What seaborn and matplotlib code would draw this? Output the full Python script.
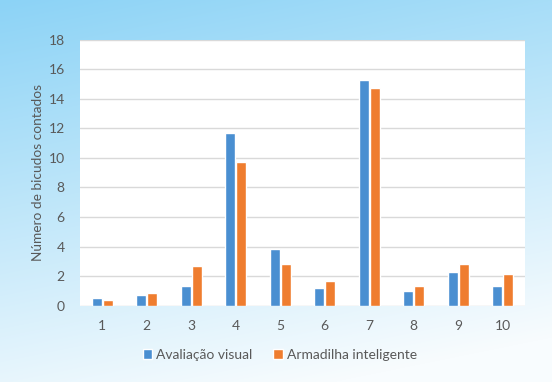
import numpy as np
import pandas as pd
import seaborn as sns
import matplotlib.pyplot as plt

categories = ["1", "2", "3", "4", "5", "6", "7", "8", "9", "10"]
avaliacao_visual = [0.5, 0.7, 1.35, 11.7, 3.85, 1.2, 15.3, 1.0, 2.25, 1.35]
armadilha_inteligente = [0.4, 0.85, 2.7, 9.75, 2.8, 1.65, 14.7, 1.3, 2.8, 2.15]
series_names = ["Avaliação visual", "Armadilha inteligente"]
y_ticks = [0, 2, 4, 6, 8, 10, 12, 14, 16, 18]

df = pd.DataFrame({
    "cat": categories * 2,
    "valor": avaliacao_visual + armadilha_inteligente,
    "serie": [series_names[0]] * 10 + [series_names[1]] * 10,
})

sns.set_style("white")
plt.rcParams['font.family'] = ['Lato', 'DejaVu Sans']
text_col = "#595959"

fig = plt.figure(figsize=(5.52, 3.82), dpi=100)

# background gradient (light blue at top, fading to white bottom right)
bg = fig.add_axes([0, 0, 1, 1], zorder=-10)
h, w = 382, 552
yy, xx = np.mgrid[0:h, 0:w]
t = np.clip(yy / h * 0.85 + xx / w * 0.25, 0, 1)
top = np.array([140, 211, 246]) / 255
bot = np.array([248, 252, 254]) / 255
img = top[None, None, :] * (1 - t[..., None]) + bot[None, None, :] * t[..., None]
bg.imshow(img, aspect="auto", extent=[0, 1, 0, 1])
bg.axis("off")

ax = fig.add_axes([80 / 552, 1 - 305.7 / 382, 445 / 552, 266 / 382])
ax.set_facecolor("white")
sns.barplot(data=df, x="cat", y="valor", hue="serie", order=categories,
            hue_order=series_names, palette=["#4a8fd1", "#ef7d2f"],
            saturation=1, width=0.51, gap=0.12, ax=ax)

ax.set_ylim(0, 18)
ax.set_yticks(y_ticks)
ax.yaxis.grid(True, color="#d9d9d9", linewidth=1)
ax.set_axisbelow(True)
for s in ax.spines.values():
    s.set_visible(False)
ax.tick_params(axis="both", length=0, labelsize=10, labelcolor=text_col)
ax.tick_params(axis="x", pad=10)
ax.tick_params(axis="y", pad=11)
ax.set_xlabel("")
ax.set_ylabel("Número de bicudos contados", fontsize=9.8, color=text_col, labelpad=3)

handles, labels = ax.get_legend_handles_labels()
ax.get_legend().remove()
fig.legend(handles, labels, loc="center", bbox_to_anchor=(280 / 552, 1 - 355 / 382),
           ncol=2, frameon=False, fontsize=10, labelcolor=text_col,
           handlelength=0.7, handleheight=0.7, handletextpad=0.3, columnspacing=1.5)

fig.savefig("out.png", dpi=100)
